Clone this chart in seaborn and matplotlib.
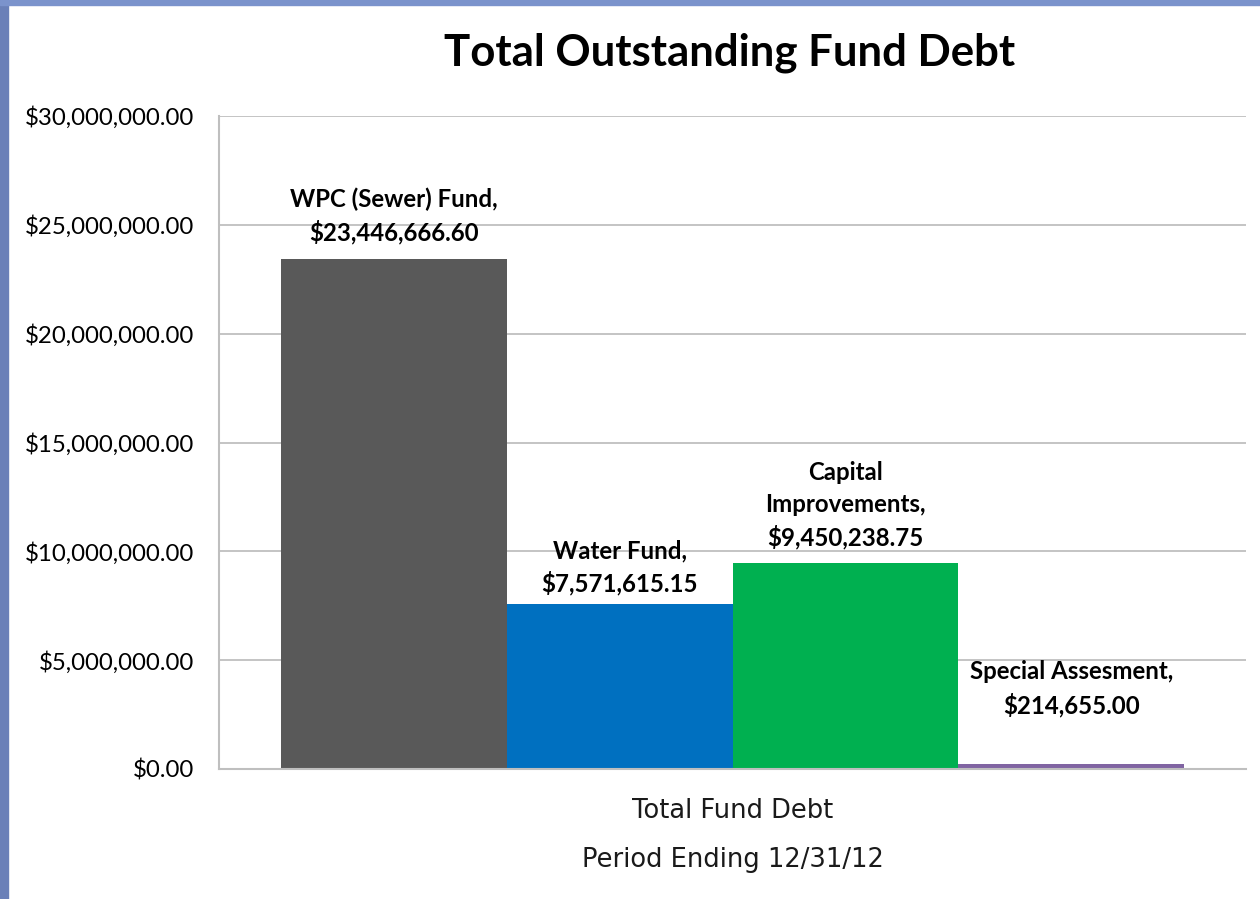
import matplotlib
matplotlib.use("Agg")
import matplotlib.pyplot as plt
import matplotlib.ticker as mticker
import seaborn as sns
import pandas as pd

# data
funds = ['WPC (Sewer) Fund', 'Water Fund', 'Capital Improvements', 'Special Assesment']
debt = [23446666.60, 7571615.15, 9450238.75, 214655.00]
label_text = ['WPC (Sewer) Fund,', 'Water Fund,', 'Capital\nImprovements,', 'Special Assesment,']
category = 'Total Fund Debt'
colors = ['#595959', '#0070C0', '#00B050', '#8064A2']
yticks = [0, 5e6, 10e6, 15e6, 20e6, 25e6, 30e6]

df = pd.DataFrame({'cat': [category] * len(funds), 'fund': funds, 'debt': debt})

sns.set_theme(style="white")
plt.rcParams['font.family'] = ['Lato', 'DejaVu Sans']
plt.rcParams['text.color'] = 'black'

fig = plt.figure(figsize=(12.6, 8.99), dpi=100)
ax = fig.add_axes([219 / 1260, 1 - 769 / 899, (1246 - 219) / 1260, (769 - 116) / 899])

sns.barplot(data=df, x='cat', y='debt', hue='fund', hue_order=funds,
            palette=colors, width=0.88, saturation=1, legend=False, ax=ax,
            edgecolor='none', linewidth=0)

ax.set_xlim(-0.5, 0.5)
ax.set_ylim(0, 30e6)
ax.set_yticks(yticks)
ax.yaxis.set_major_formatter(mticker.FuncFormatter(lambda v, p: '${:,.2f}'.format(v)))
ax.tick_params(axis='y', labelsize=17.3, length=0, pad=18, colors='black')
ax.tick_params(axis='x', length=0, labelbottom=False)
ax.grid(axis='y', color='#BFBFBF', linewidth=1.3)
ax.set_axisbelow(True)
for s in ['top', 'right']:
    ax.spines[s].set_visible(False)
for s in ['left', 'bottom']:
    ax.spines[s].set_color('#BFBFBF')
    ax.spines[s].set_linewidth(1.5)
ax.set_ylabel('')
ax.set_xlabel('Total Fund Debt\nPeriod Ending 12/31/12', family='DejaVu Sans',
              fontsize=18.5, labelpad=21, linespacing=2.12, color='#1a1a1a')

# data labels
offsets = [10, 6, 10, 34]
for bar, txt, val, off in zip(ax.patches, label_text, debt, offsets):
    cx = bar.get_x() + bar.get_width() / 2
    ax.annotate(f'{txt}\n${val:,.2f}', (cx, bar.get_height()), xytext=(0, off),
                textcoords='offset points', ha='center', va='bottom',
                fontsize=17.3, fontweight='bold', linespacing=1.45, color='black')

fig.text(730 / 1260, 1 - 53 / 899, 'Total Outstanding Fund Debt', ha='center', va='center',
         fontsize=31.5, fontweight='bold', color='black')

# blue slide border
fig.patches.append(plt.Rectangle((0, 0), 8 / 1260, 1, transform=fig.transFigure,
                                 color='#6A80B8', zorder=0))
fig.patches.append(plt.Rectangle((0, 1 - 5 / 899), 1, 5 / 899, transform=fig.transFigure,
                                 color='#7B93CC', zorder=0))

fig.savefig('out.png', dpi=100)
